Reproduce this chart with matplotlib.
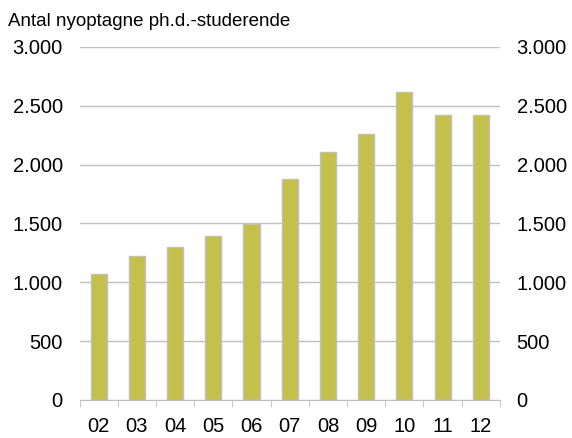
import matplotlib.pyplot as plt
from matplotlib.ticker import FuncFormatter, FixedLocator

plt.rcParams['font.family'] = ['Liberation Sans', 'DejaVu Sans']

years = ["02", "03", "04", "05", "06", "07", "08", "09", "10", "11", "12"]
values = [1070, 1220, 1300, 1390, 1495, 1875, 2105, 2260, 2620, 2425, 2425]
yticks = [0, 500, 1000, 1500, 2000, 2500, 3000]

fig = plt.figure(figsize=(5.72, 4.38), dpi=100)
ax = fig.add_axes([0.139, 0.087, 0.735, 0.806])

x = list(range(len(years)))
ax.bar(x, values, width=0.42, color="#C4C04C", edgecolor="#BFBFBF", linewidth=1, zorder=3)

ax.set_xlim(-0.5, len(years) - 0.5)
ax.set_ylim(0, 3000)
ax.set_yticks(yticks)
ax.yaxis.set_major_formatter(FuncFormatter(lambda v, p: f"{int(v):,}".replace(",", ".")))
ax.grid(axis="y", color="#BFBFBF", linewidth=1, zorder=0)

ax.set_xticks(x)
ax.set_xticklabels(years)
ax.xaxis.set_minor_locator(FixedLocator([i - 0.5 for i in range(len(years) + 1)]))
ax.tick_params(axis="x", which="major", length=0, labelsize=14.5, pad=12)
ax.tick_params(axis="x", which="minor", length=5, color="#BFBFBF", direction="out")
ax.tick_params(axis="y", length=0, labelsize=14.5, pad=12, labelright=True)

for s in ["top", "left", "right"]:
    ax.spines[s].set_visible(False)
ax.spines["bottom"].set_color("#BFBFBF")
ax.spines["bottom"].set_zorder(4)

fig.text(0.014, 0.952, "Antal nyoptagne ph.d.-studerende", fontsize=13.5, va="center", ha="left")

fig.savefig("out.png", dpi=100)
